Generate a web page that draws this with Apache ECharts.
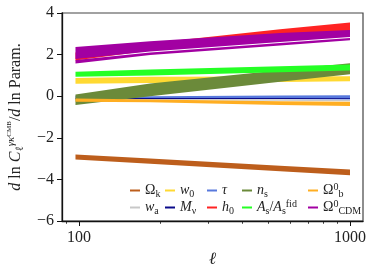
<!DOCTYPE html>
<html><head><meta charset="utf-8">
<script src="https://cdn.jsdelivr.net/npm/echarts@6/dist/echarts.min.js"></script>
<style>html,body{margin:0;padding:0;background:#fff}#c{width:374px;height:273px}</style>
</head><body><div id="c"></div>
<script>
// ---- data ----
const ell = [97, 183, 552, 1000];
const xMajorTicks = [100, 1000];
const xMinorTicks = [90, 200, 300, 400, 500, 600, 700, 800, 900];
const yMin = -6, yMax = 4, yStep = 2;

const omegaKLo = [-3.04, -3.25, -3.61, -3.80];
const omegaKHi = [-2.80, -3.00, -3.34, -3.52];
const waLo = [-0.20, -0.20, -0.22, -0.24];
const waHi = [-0.14, -0.14, -0.15, -0.17];
const w0Lo = [0.60, 0.64, 0.68, 0.72];
const w0Hi = [0.88, 0.93, 0.95, 0.96];
const tauLo = [-0.12, -0.11, -0.13, -0.16];
const tauHi = [0.02, 0.00, 0.03, 0.05];
const mnuLo = [-0.135, -0.13, -0.13, -0.135];
const mnuHi = [-0.095, -0.09, -0.09, -0.095];
const h0Lo = [1.72, 2.20, 2.75, 2.95];
const h0Hi = [2.10, 2.55, 3.22, 3.54];
const nsLo = [-0.42, 0.00, 0.69, 1.05];
const nsHi = [0.08, 0.61, 1.25, 1.58];
const asLo = [0.93, 1.00, 1.15, 1.24];
const asHi = [1.17, 1.28, 1.44, 1.52];
const obLo = [-0.27, -0.29, -0.42, -0.47];
const obHi = [-0.11, -0.16, -0.24, -0.27];
const cdmLo = [1.57, 1.98, 2.44, 2.69];
const cdmSeamLo = [1.735, 2.105, 2.555, 2.795];
const cdmSeamHi = [1.785, 2.155, 2.605, 2.845];
const cdmHi = [2.37, 2.64, 3.04, 3.18];

const colors = {
  'Ωk': '#bd5e1c', 'wa': '#c8c8c8', 'w0': '#ffd932', 'τ': '#5879dc', 'Mν': '#0a0a8a',
  'h0': '#ff2323', 'ns': '#6b8a3a', 'As': '#25ff25', 'Ωb': '#ffae22', 'ΩCDM': '#a200a2'
};
const legendLabels = {
  'Ωk': 'Ω{sub|k}', 'wa': '{i|w}{sub|a}', 'w0': '{i|w}{sub|0}', 'Mν': '{i|M}{sub|ν}',
  'τ': '{i|τ}', 'h0': '{i|h}{sub|0}', 'ns': '{i|n}{sub|s}', 'As': '{i|A}{sub|s}/{i|A}{sub|s}{sup|fid}',
  'Ωb': 'Ω{sup|0}{sub|b}', 'ΩCDM': 'Ω{sup|0}{sub|CDM}'
};
const legendCols = [['Ωk', 'wa'], ['w0', 'Mν'], ['τ', 'h0'], ['ns', 'As'], ['Ωb', 'ΩCDM']];
const legendLeft = [125, 160, 202, 237, 303];

const FONT = "'Liberation Serif', 'DejaVu Serif', serif";
const lx = ell.map(v => Math.log10(v));
const N = ell.length;

// A band = one data item holding, for each ell, [log10(ell), lower, upper, ...]
// (optionally extra pairs of lower/upper for split bands).
function bandSeries(name, pairs) {
  const stride = 1 + 2 * pairs.length;
  const item = [];
  for (let i = 0; i < N; i++) {
    item.push(lx[i]);
    pairs.forEach(p => { item.push(p[0][i], p[1][i]); });
  }
  const xDims = [], yDims = [];
  for (let i = 0; i < N; i++) {
    xDims.push(i * stride);
    for (let j = 1; j < stride; j++) yDims.push(i * stride + j);
  }
  return {
    type: 'custom', name: name, silent: true, clip: true,
    itemStyle: {color: colors[name]},
    encode: {x: xDims, y: yDims},
    data: [item],
    renderItem: function (params, api) {
      const children = pairs.map((p, k) => {
        const top = [], bot = [];
        for (let i = 0; i < N; i++) {
          const x = api.value(i * stride);
          top.push(api.coord([x, api.value(i * stride + 2 + 2 * k)]));
          bot.push(api.coord([x, api.value(i * stride + 1 + 2 * k)]));
        }
        return {type: 'polygon', shape: {points: top.concat(bot.reverse())},
                style: {fill: colors[name], stroke: 'none'}};
      });
      return {type: 'group', children: children};
    }
  };
}

const series = [
  bandSeries('Ωk', [[omegaKLo, omegaKHi]]),
  bandSeries('wa', [[waLo, waHi]]),
  bandSeries('w0', [[w0Lo, w0Hi]]),
  bandSeries('τ', [[tauLo, tauHi]]),
  bandSeries('Mν', [[mnuLo, mnuHi]]),
  bandSeries('h0', [[h0Lo, h0Hi]]),
  bandSeries('ns', [[nsLo, nsHi]]),
  bandSeries('As', [[asLo, asHi]]),
  bandSeries('Ωb', [[obLo, obHi]]),
  bandSeries('ΩCDM', [[cdmLo, cdmSeamLo], [cdmSeamHi, cdmHi]])
];

const legendRich = {
  i: {fontStyle: 'italic', fontFamily: FONT, fontSize: 14, lineHeight: 17, color: '#222'},
  sub: {fontFamily: FONT, fontSize: 10, lineHeight: 9, verticalAlign: 'bottom', color: '#222'},
  sup: {fontFamily: FONT, fontSize: 10, lineHeight: 9, verticalAlign: 'top', color: '#222'}
};
const legends = legendCols.map((col, k) => ({
  orient: 'vertical', left: legendLeft[k], top: 177, itemGap: 0,
  itemWidth: 10, itemHeight: 2, icon: 'rect', selectedMode: false,
  itemStyle: {opacity: 1},
  data: col.map(n => ({name: n, itemStyle: {color: colors[n], opacity: 1}})),
  formatter: n => legendLabels[n],
  textStyle: {fontFamily: FONT, fontSize: 14, lineHeight: 17, color: '#222', rich: legendRich}
}));

const xmin = 1.937, xmax = 3.048;
const option = {
  animation: false,
  backgroundColor: '#fff',
  grid: {left: 62, right: 11, top: 13, bottom: 52, show: true, borderColor: '#444', borderWidth: 1.2,
         containLabel: false, outerBoundsMode: 'none'},
  legend: legends,
  xAxis: [{
    type: 'value', min: xmin, max: xmax, z: 5, position: 'bottom',
    axisLine: {show: true, onZero: false, lineStyle: {color: '#111', width: 1.3}},
    axisTick: {show: true, customValues: xMajorTicks.map(v => Math.log10(v)), length: 5, lineStyle: {color: '#111', width: 1}},
    axisLabel: {customValues: xMajorTicks.map(v => Math.log10(v)), formatter: v => String(Math.round(Math.pow(10, v))),
      margin: 9, fontFamily: FONT, fontSize: 16, color: '#222'},
    splitLine: {show: false},
    name: 'ℓ', nameLocation: 'middle', nameGap: 24,
    nameTextStyle: {fontFamily: FONT, fontSize: 17, fontStyle: 'italic', color: '#222'}
  }, {
    type: 'value', min: xmin, max: xmax, position: 'bottom', z: 5,
    axisLine: {show: false, onZero: false},
    axisTick: {show: true, customValues: xMinorTicks.map(v => Math.log10(v)), length: 2.8, lineStyle: {color: '#111', width: 0.8}},
    axisLabel: {show: false}, splitLine: {show: false}
  }],
  yAxis: {
    type: 'value', min: yMin, max: yMax, interval: yStep, z: 5,
    axisLine: {show: true, onZero: false, lineStyle: {color: '#111', width: 1.3}},
    axisTick: {show: true, length: 5, lineStyle: {color: '#111', width: 1}},
    axisLabel: {margin: 8, fontFamily: FONT, fontSize: 16, color: '#222', formatter: v => String(v).replace('-', '\u2212')},
    splitLine: {show: false},
    name: '{i|d} ln {i|C}{sub|ℓ}{sup|γκ}{sup2|CMB}/{i|d} ln Param.',
    nameLocation: 'middle', nameRotate: 90, nameGap: 34,
    nameTextStyle: {fontFamily: FONT, fontSize: 16, color: '#222', lineHeight: 20,
      rich: {
        i: {fontStyle: 'italic', fontFamily: FONT, fontSize: 16, lineHeight: 20, color: '#222'},
        sub: {fontFamily: FONT, fontSize: 11, lineHeight: 11, verticalAlign: 'bottom', color: '#222'},
        sup: {fontFamily: FONT, fontStyle: 'italic', fontSize: 11, lineHeight: 12, verticalAlign: 'top', color: '#222'},
        sup2: {fontFamily: FONT, fontSize: 7, lineHeight: 16, verticalAlign: 'top', color: '#222'}
      }}
  },
  series: series
};
const chart = echarts.init(document.getElementById('c'), null, {renderer: 'canvas'});
chart.setOption(option);
</script>
</body></html>
